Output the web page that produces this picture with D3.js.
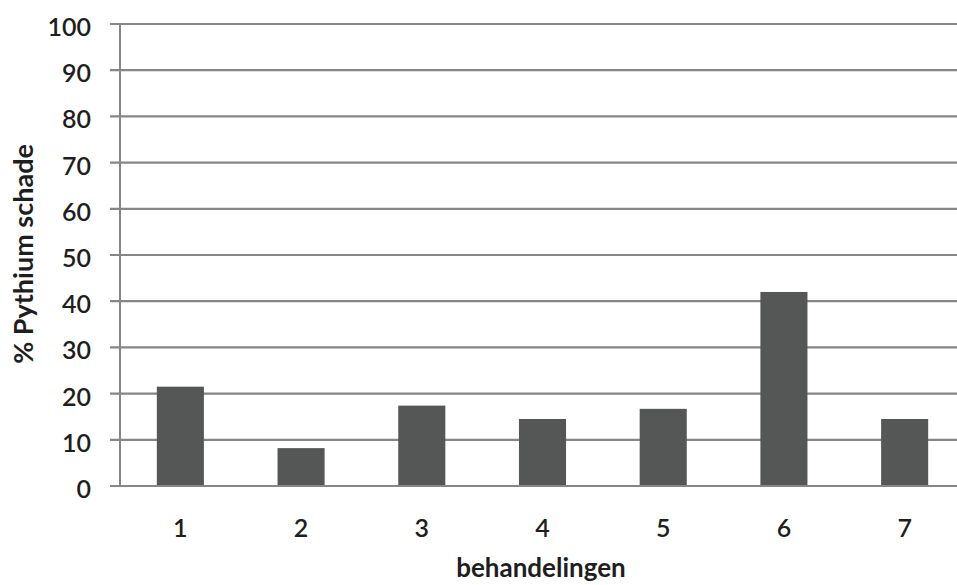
<!DOCTYPE html>
<html><head><meta charset="utf-8">
<script src="https://cdn.jsdelivr.net/npm/d3@7"></script>
<style>body{margin:0;background:#fff}svg{display:block}text{font-family:Lato,"Open Sans",sans-serif}</style>
</head><body>
<svg id="c" width="957" height="585"></svg>
<script>
const categories = ["1","2","3","4","5","6","7"];
const values = [21.5, 8.2, 17.4, 14.5, 16.7, 42, 14.5];
const yTicks = [0,10,20,30,40,50,60,70,80,90,100];
const yTitle = "% Pythium schade";
const xTitle = "behandelingen";

(function(){
const svg = d3.select("#c");
const pLeft = 120, pRight = 965, pTop = 24, pBottom = 486;
const x = d3.scaleBand().domain(categories).range([pLeft, pRight]).paddingInner(0.61).paddingOuter(0.305);
const y = d3.scaleLinear().domain([0,100]).range([pBottom, pTop]);

// gridlines
svg.append("g").selectAll("line").data(yTicks).join("line")
  .attr("x1", 110).attr("x2", 957)
  .attr("y1", d => y(d)).attr("y2", d => y(d))
  .attr("stroke", "#868686").attr("stroke-width", 2.2);

// y axis line
svg.append("line").attr("x1", pLeft).attr("x2", pLeft).attr("y1", y(100)).attr("y2", y(0))
  .attr("stroke", "#868686").attr("stroke-width", 2);

// bars
svg.append("g").selectAll("rect").data(values).join("rect")
  .attr("x", (d,i) => x(categories[i]))
  .attr("width", x.bandwidth())
  .attr("y", d => y(d))
  .attr("height", d => y(0) - y(d))
  .attr("fill", "#555757");

// x axis line on top
svg.append("line").attr("x1", 110).attr("x2", 957).attr("y1", y(0)).attr("y2", y(0))
  .attr("stroke", "#868686").attr("stroke-width", 2.2);

// y tick labels
svg.append("g").selectAll("text").data(yTicks).join("text")
  .attr("x", 91).attr("y", d => y(d) + 3).attr("dy", "0.36em")
  .attr("text-anchor", "end").attr("font-size", 25).attr("font-weight", 600).attr("fill", "#1e1e1e")
  .text(d => d);

// x tick labels
svg.append("g").selectAll("text").data(categories).join("text")
  .attr("x", d => x(d) + x.bandwidth()/2).attr("y", 528).attr("dy", "0.36em")
  .attr("text-anchor", "middle").attr("font-size", 25).attr("font-weight", 600).attr("fill", "#1e1e1e")
  .text(d => d);

// titles
svg.append("text").attr("transform", "translate(33,254) rotate(-90)")
  .attr("text-anchor", "middle").attr("font-size", 27).attr("font-weight", 700).attr("fill", "#1e1e1e")
  .text(yTitle);
svg.append("text").attr("x", 541).attr("y", 577)
  .attr("text-anchor", "middle").attr("font-size", 26).attr("font-weight", 700).attr("fill", "#1e1e1e")
  .text(xTitle);
})();
</script>
</body></html>
